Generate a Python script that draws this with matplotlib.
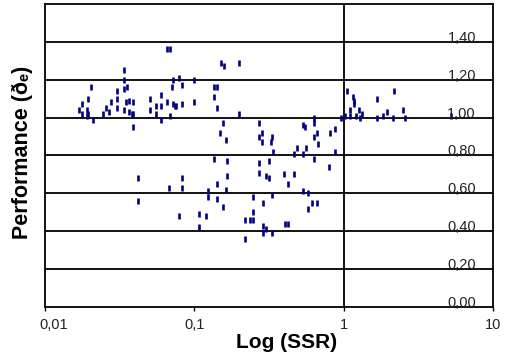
import matplotlib
matplotlib.use("Agg")
import matplotlib.pyplot as plt
import matplotlib.transforms as mtransforms
import numpy as np

plt.rcParams["font.family"] = ["Liberation Sans", "DejaVu Sans"]

# log10(SSR) and performance
log_ssr = [
    -1.75, -1.77, -1.75, -1.72, -1.72, -1.71, -1.71, -1.69, -1.68, -1.61,
    -1.59, -1.56, -1.57, -1.52, -1.52, -1.52, -1.47, -1.47, -1.47, -1.45,
    -1.46, -1.44, -1.47, -1.44, -1.42, -1.41, -1.41, -1.41, -1.30, -1.30,
    -1.26, -1.26, -1.22, -1.22, -1.22, -1.16, -1.18, -1.18, -1.16, -1.15,
    -1.14, -1.13, -1.12, -1.08, -1.14, -1.10, -1.08, -1.00, -1.00, -0.87,
    -0.85, -0.87, -0.85, -0.82, -0.80, -0.70, -0.70, -0.81, -0.83, -0.79,
    -0.57, -0.57,
    -0.87, -0.78, -0.57, -0.57, -1.38, -1.38, -1.17, -1.08, -1.08, -0.91,
    -0.91, -0.85, -0.78, -0.79, -0.85, -0.81, -1.10, -0.97, -0.97, -0.92,
    -0.66, -0.63, -0.66, -0.61, -0.61, -0.61, -0.55, -0.49, -0.48, -0.55,
    -0.52, -0.50, -0.50, -0.47, -0.40, -0.33, -0.37, -0.54, -0.48, -0.54,
    -0.52, -0.54, -0.48, -0.39, -0.37, -0.31, -0.25, -0.33, -0.27, -0.27,
    -0.26, -0.20, -0.20, -0.20, -0.18, -0.17, -0.20, -0.09, -0.06, -0.06,
    -0.10, -0.27, -0.24, -0.21, -0.18, -0.24,
    -0.02, 0.01, 0.04, 0.08, 0.11, 0.12, 0.02, 0.06, 0.07, 0.07,
    0.04, 0.10, 0.22, 0.34, 0.22, 0.26, 0.29, 0.33, 0.40, 0.41,
    0.72,
]
performance = [
    1.07, 1.04, 1.02, 1.04, 1.01, 1.02, 1.10, 1.16, 0.99, 1.02,
    1.05, 1.08, 1.03, 1.10, 1.14, 1.05, 1.25, 1.20, 1.15, 1.16,
    1.08, 1.09, 1.04, 1.03, 1.02, 1.08, 0.95, 1.02, 1.10, 1.04,
    1.06, 1.02, 1.12, 1.06, 0.99, 1.36, 1.36, 1.08, 1.01, 1.16,
    1.07, 1.06, 1.06, 1.07, 1.20, 1.21, 1.17, 1.20, 1.08, 1.16,
    1.16, 1.11, 1.05, 1.29, 1.27, 1.29, 1.02, 0.97, 0.92, 0.88,
    0.97, 0.90,
    0.78, 0.77, 0.76, 0.71, 0.68, 0.56, 0.63, 0.68, 0.63, 0.61,
    0.58, 0.65, 0.69, 0.62, 0.57, 0.53, 0.48, 0.49, 0.42, 0.48,
    0.46, 0.46, 0.36, 0.58, 0.50, 0.46, 0.87, 0.87, 0.90, 0.92,
    0.69, 0.68, 0.77, 0.82, 0.70, 0.70, 0.65, 0.55, 0.59, 0.43,
    0.41, 0.39, 0.39, 0.44, 0.44, 0.84, 0.84, 0.81, 0.81, 0.96,
    0.95, 1.00, 0.97, 0.90, 0.92, 0.86, 0.78, 0.92, 0.94, 0.82,
    0.74, 0.61, 0.60, 0.55, 0.55, 0.52,
    1.00, 1.01, 1.01, 1.01, 1.00, 1.02, 1.14, 1.11, 1.09, 1.07,
    1.04, 1.04, 1.10, 1.14, 1.00, 1.01, 1.03, 1.00, 1.04, 1.00,
    1.01,
]

x_ticks = [0.01, 0.1, 1, 10]
x_tick_labels = ["0,01", "0,1", "1", "10"]
y_grid = [0.2, 0.4, 0.6, 0.8, 1.0, 1.2, 1.4]
y_labels = ["0,00", "0,20", "0,40", "0,60", "0,80", "1,00", "1,20", "1,40"]
y_label_vals = [0.0, 0.2, 0.4, 0.6, 0.8, 1.0, 1.2, 1.4]

fig = plt.figure(figsize=(5.07, 3.53), dpi=100, facecolor="white")
ax = fig.add_axes([0.0888, 0.1303, 0.8836, 0.8584])

ssr = 10 ** np.array(log_ssr)
ax.plot(ssr, performance, linestyle="none", marker="|", markersize=4.5,
        markeredgewidth=1.9, color="#000080", zorder=3)

ax.set_xscale("log")
ax.set_xlim(0.01, 10)
ax.set_ylim(0, 1.6)

for v in y_grid:
    ax.axhline(v, color="black", linewidth=1.3, zorder=2)
ax.axvline(1, color="black", linewidth=1.3, zorder=2)

for s in ax.spines.values():
    s.set_linewidth(1.3)

ax.set_yticks([])
ax.set_xticks(x_ticks)
ax.set_xticklabels(x_tick_labels, fontsize=10.5, color="#222222")
ax.tick_params(axis="x", length=3, width=1, pad=5)
ax.xaxis.set_minor_locator(matplotlib.ticker.NullLocator())

# the first label sits a little right of its tick in the original
first = ax.get_xticklabels()[0]
first.set_transform(first.get_transform() +
                    mtransforms.ScaledTranslation(0.09, 0, fig.dpi_scale_trans))

for v, lab in zip(y_label_vals, y_labels):
    ax.text(0.962, v, lab, transform=ax.get_yaxis_transform(), ha="right",
            va="baseline", fontsize=10.5, color="#222222", zorder=4)

ax.set_xlabel("Log (SSR)", fontsize=15, fontweight="bold", labelpad=0)
ax.xaxis.set_label_coords(0.54, -0.085)
ax.set_ylabel("Performance (ðₑ)", fontsize=15.5, fontweight="bold", labelpad=2)
ax.yaxis.set_label_coords(-0.027, 0.51)

fig.savefig("out.png", dpi=100)
